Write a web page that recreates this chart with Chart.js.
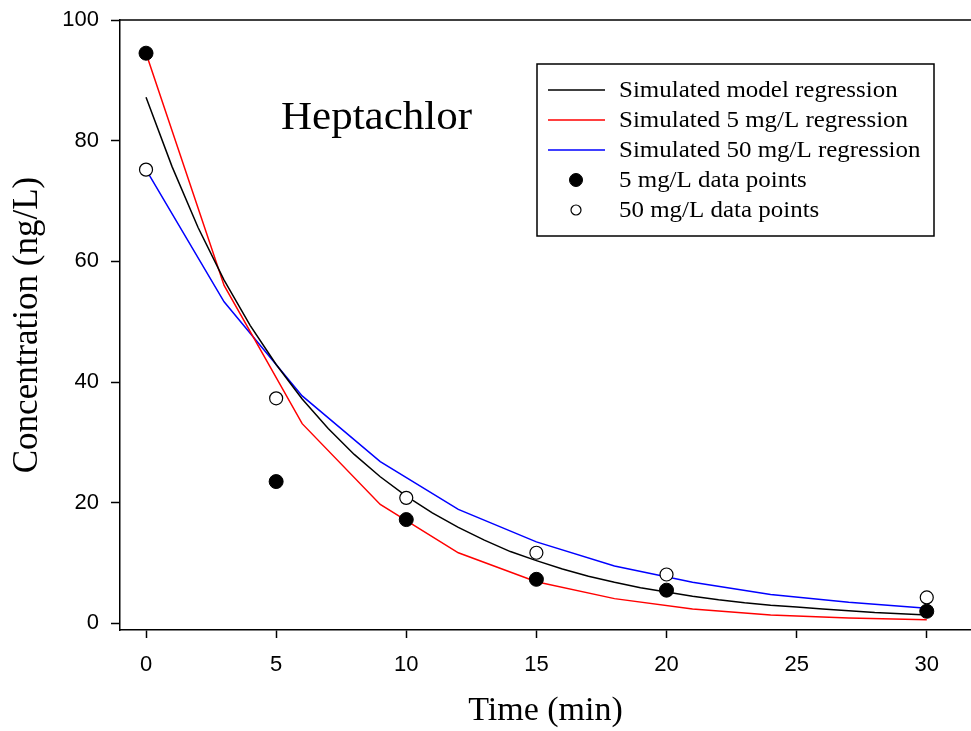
<!DOCTYPE html>
<html>
<head>
<meta charset="utf-8">
<title>Heptachlor</title>
<script src="https://cdn.jsdelivr.net/npm/chart.js@4.4.1/dist/chart.umd.min.js"></script>
<style>
  html, body { margin: 0; padding: 0; background: #ffffff; }
  #wrap { width: 971px; height: 731px; position: relative; }
</style>
</head>
<body>
<div id="wrap"><canvas id="chart" width="971" height="731"></canvas></div>
<script>
// Measured concentrations (ng/L) at each sampling time (min)
const sampleTimes = [0, 5, 10, 15, 20, 30];
const points5mg = [94.5, 23.5, 17.2, 7.3, 5.5, 2.0];
const points50mg = [75.2, 37.3, 20.8, 11.7, 8.1, 4.3];

// Regression curves for each spiking level, evaluated every 3 min
const fitTimes = [0, 3, 6, 9, 12, 15, 18, 21, 24, 27, 30];
const fit5mg = [94.5, 56.0, 33.1, 19.7, 11.7, 6.9, 4.1, 2.4, 1.4, 0.9, 0.6];
const fit50mg = [75.2, 53.3, 37.7, 26.8, 18.9, 13.5, 9.5, 6.8, 4.8, 3.5, 2.5];

// Overall model regression, evaluated every minute
const modelTimes = [0, 1, 2, 3, 4, 5, 6, 7, 8, 9, 10, 11, 12, 13, 14, 15,
                    16, 17, 18, 19, 20, 21, 22, 23, 24, 25, 26, 27, 28, 29, 30];
const modelFit = [87.2, 75.7, 65.6, 56.9, 49.4, 42.9, 37.2, 32.3, 28.0, 24.3, 21.1,
                  18.3, 15.9, 13.8, 11.9, 10.4, 9.0, 7.8, 6.8, 5.9, 5.2,
                  4.5, 3.9, 3.4, 3.0, 2.7, 2.4, 2.1, 1.8, 1.6, 1.4];

// Axis tick positions
const xTicks = [0, 5, 10, 15, 20, 25, 30];
const yTicks = [0, 20, 40, 60, 80, 100];

const legendNames = [
  'Simulated model regression',
  'Simulated 5 mg/L regression',
  'Simulated 50 mg/L regression',
  '5 mg/L data points',
  '50 mg/L data points'
];

const pairs = (xs, ys) => xs.map((x, i) => ({ x: x, y: ys[i] }));

const SERIF = '"Liberation Serif", "Times New Roman", Times, serif';
const SANS = '"Liberation Sans", Arial, Helvetica, sans-serif';

// Text drawn slightly widened, as the serif face of the original plot runs wide
function wideText(ctx, text, x, y, stretch) {
  ctx.save();
  ctx.translate(x, y);
  ctx.scale(stretch, 1);
  ctx.fillText(text, 0, 0);
  ctx.restore();
}

// Frame top edge, boxed key and compound name
const decorations = {
  id: 'decorations',
  afterDraw(chart) {
    const ctx = chart.ctx;
    const a = chart.chartArea;
    ctx.save();

    // top edge of the plot frame
    ctx.strokeStyle = '#000';
    ctx.lineWidth = 1.5;
    ctx.beginPath();
    ctx.moveTo(a.left, a.top);
    ctx.lineTo(a.right, a.top);
    ctx.stroke();

    // compound name
    ctx.fillStyle = '#000';
    ctx.font = '40px ' + SERIF;
    ctx.textAlign = 'left';
    ctx.textBaseline = 'alphabetic';
    wideText(ctx, 'Heptachlor', a.left + 161, a.top + 109, 1.075);

    // key box
    const bx = a.left + 417, by = a.top + 44, bw = 397, bh = 172;
    ctx.lineWidth = 1.5;
    ctx.strokeRect(bx, by, bw, bh);

    const rowY0 = by + 26, rowGap = 30;
    const sampleL = bx + 11, sampleR = bx + 68, markX = bx + 39, textX = bx + 82;
    ctx.font = '23px ' + SERIF;
    ctx.textBaseline = 'middle';
    chart.data.datasets.forEach((ds, i) => {
      const y = rowY0 + i * rowGap;
      if (ds.showLine !== false) {
        ctx.strokeStyle = ds.borderColor;
        ctx.lineWidth = ds.borderWidth;
        ctx.beginPath();
        ctx.moveTo(sampleL, y);
        ctx.lineTo(sampleR, y);
        ctx.stroke();
      } else {
        ctx.beginPath();
        ctx.arc(markX, y, ds.legendRadius, 0, Math.PI * 2);
        ctx.fillStyle = ds.pointBackgroundColor;
        ctx.fill();
        ctx.strokeStyle = ds.pointBorderColor;
        ctx.lineWidth = ds.pointBorderWidth;
        ctx.stroke();
      }
      ctx.fillStyle = '#000';
      wideText(ctx, ds.label, textX, y + 1, 1.085);
    });
    ctx.restore();
  }
};

new Chart(document.getElementById('chart'), {
  type: 'line',
  data: {
    datasets: [
      {
        label: legendNames[0],
        data: pairs(modelTimes, modelFit),
        borderColor: '#000000', borderWidth: 1.5,
        pointRadius: 0, tension: 0, order: 2
      },
      {
        label: legendNames[1],
        data: pairs(fitTimes, fit5mg),
        borderColor: '#ff0000', borderWidth: 1.5,
        pointRadius: 0, tension: 0, order: 2
      },
      {
        label: legendNames[2],
        data: pairs(fitTimes, fit50mg),
        borderColor: '#0000ff', borderWidth: 1.5,
        pointRadius: 0, tension: 0, order: 2
      },
      {
        label: legendNames[3],
        data: pairs(sampleTimes, points5mg),
        showLine: false,
        pointRadius: 7, pointBackgroundColor: '#000000',
        pointBorderColor: '#000000', pointBorderWidth: 1,
        legendRadius: 6.5, order: 0
      },
      {
        label: legendNames[4],
        data: pairs(sampleTimes, points50mg),
        showLine: false,
        pointRadius: 6.5, pointBackgroundColor: '#ffffff',
        pointBorderColor: '#000000', pointBorderWidth: 1.2,
        legendRadius: 5, order: 1
      }
    ]
  },
  options: {
    responsive: false,
    animation: false,
    events: [],
    layout: { autoPadding: false, padding: { top: 20, right: 0, left: 0, bottom: 0 } },
    plugins: {
      legend: { display: false },
      tooltip: { enabled: false },
      title: { display: false }
    },
    scales: {
      x: {
        type: 'linear',
        min: -1,
        max: 31.7,
        afterBuildTicks: s => { s.ticks = xTicks.map(v => ({ value: v })); },
        afterFit: s => {
          s.height = 101;
          s.paddingLeft = 0; s.paddingRight = 0;
        },
        ticks: {
          autoSkip: false, maxRotation: 0,
          color: '#000', padding: 14,
          font: { family: SANS, size: 22 }
        },
        grid: {
          drawOnChartArea: false, drawTicks: true,
          tickLength: 8, tickWidth: 1.5, tickColor: '#000'
        },
        border: { display: true, color: '#000', width: 1.5 },
        title: {
          display: true, text: 'Time (min)', color: '#000',
          font: { family: SERIF, size: 34 }, padding: { top: 0, bottom: 0 }
        }
      },
      y: {
        type: 'linear',
        min: -1.1,
        max: 100,
        afterBuildTicks: s => { s.ticks = yTicks.map(v => ({ value: v })); },
        afterFit: s => {
          s.width = 120;
          s.paddingTop = 0; s.paddingBottom = 0;
        },
        ticks: {
          color: '#000', padding: 12,
          font: { family: SANS, size: 22 }
        },
        grid: {
          drawOnChartArea: false, drawTicks: true,
          tickLength: 9, tickWidth: 1.5, tickColor: '#000'
        },
        border: { display: true, color: '#000', width: 1.5 },
        title: {
          display: true, text: 'Concentration (ng/L)', color: '#000',
          font: { family: SERIF, size: 35 }, padding: { top: 7, bottom: 0 }
        }
      }
    }
  },
  plugins: [decorations]
});
</script>
</body>
</html>
